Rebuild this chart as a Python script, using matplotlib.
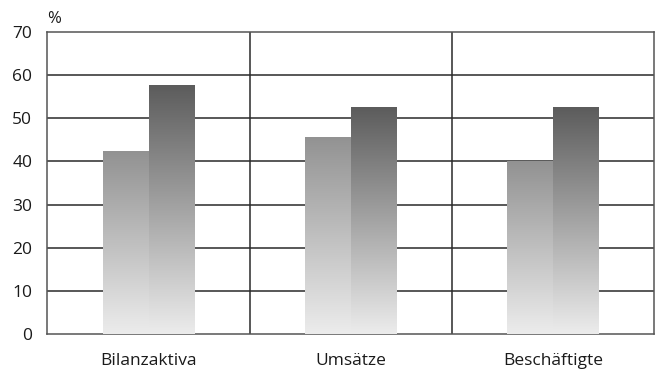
import numpy as np
import matplotlib.pyplot as plt
from matplotlib.colors import LinearSegmentedColormap

categories = ["Bilanzaktiva", "Umsätze", "Beschäftigte"]
series_light = [42.4, 45.7, 40.0]
series_dark = [57.7, 52.6, 52.6]
yticks = [0, 10, 20, 30, 40, 50, 60, 70]

plt.rcParams["font.family"] = ["Open Sans", "DejaVu Sans"]

cmap_light = LinearSegmentedColormap.from_list("light", ["#ececec", "#929292"])
cmap_dark = LinearSegmentedColormap.from_list("dark", ["#ececec", "#5c5c5c"])


def gradient_bars(ax, xs, heights, width, cmap):
    # each bar is an upright gradient image clipped to its rectangle
    grad = np.linspace(0, 1, 256).reshape(-1, 1)
    bars = ax.bar(xs, heights, width=width, align="edge", color="none", lw=0)
    for rect in bars:
        x0, w, h = rect.get_x(), rect.get_width(), rect.get_height()
        im = ax.imshow(grad, cmap=cmap, origin="lower", aspect="auto",
                       extent=(x0, x0 + w, 0, h), zorder=3, interpolation="bilinear")
        im.set_clip_path(rect)
    return bars


def main():
    fig = plt.figure(figsize=(6.59, 3.69), dpi=100)
    ax = fig.add_axes([0.072, 0.095, 0.9205, 0.8185])

    x = np.arange(len(categories))
    w = 0.227
    gradient_bars(ax, x - w, series_light, w, cmap_light)
    gradient_bars(ax, x, series_dark, w, cmap_dark)

    ax.set_xlim(-0.5, len(categories) - 0.5)
    ax.set_ylim(0, 70)
    ax.set_yticks(yticks)
    ax.set_xticks(x)
    ax.set_xticklabels(categories)

    # horizontal grid + category separators
    for y in yticks[1:-1]:
        ax.axhline(y, color="#2a2a2a", lw=1.1, zorder=1)
    for xs in x[:-1] + 0.5:
        ax.axvline(xs, color="#2a2a2a", lw=1.1, zorder=1)

    for s in ax.spines.values():
        s.set_color("#555555")
        s.set_linewidth(1.1)
    ax.tick_params(length=0, labelsize=12.5, colors="#1a1a1a")
    ax.tick_params(axis="x", pad=14)
    ax.tick_params(axis="y", pad=11)

    ax.text(0.0, 1.043, "%", transform=ax.transAxes, ha="left", va="center",
            fontsize=12, color="#1a1a1a")

    fig.savefig("out.png", dpi=100)


if __name__ == "__main__":
    main()
